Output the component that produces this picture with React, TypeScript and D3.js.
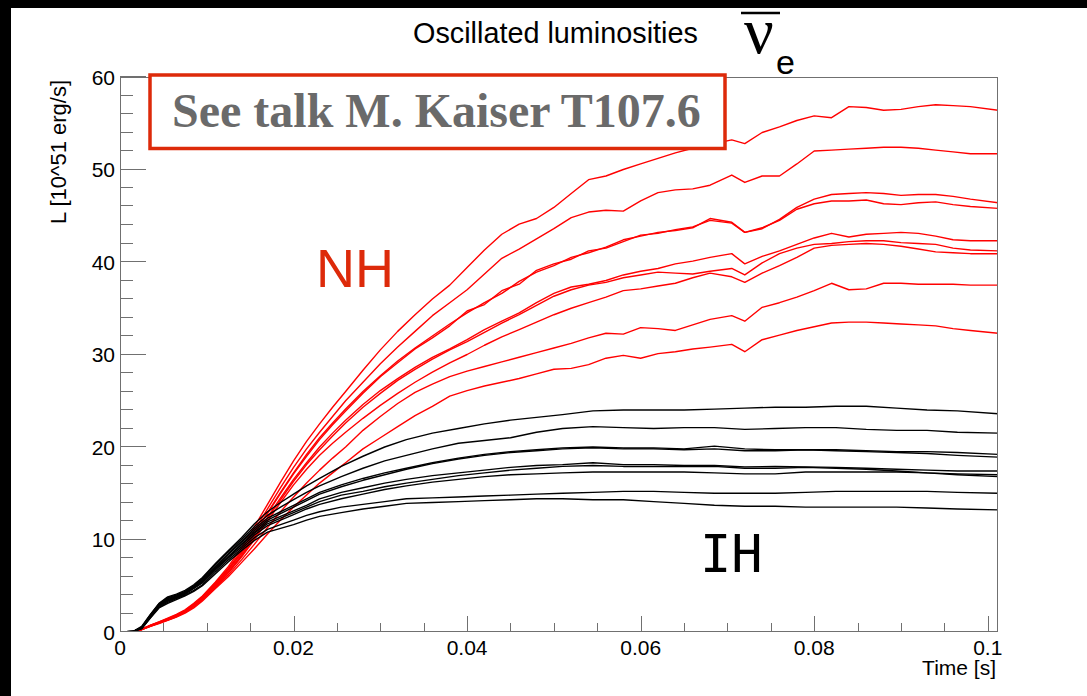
import React from 'react';
import * as d3 from 'd3';

// time grids (s)
const T_NH = [0, 0.0015, 0.0025, 0.0035, 0.0045, 0.0055, 0.0065, 0.0075, 0.0085, 0.0095,
  0.011, 0.0125, 0.014, 0.0155, 0.017, 0.0185, 0.02, 0.0215, 0.023, 0.0245,
  0.026, 0.028, 0.030, 0.032, 0.034, 0.036, 0.038, 0.040, 0.042, 0.044, 0.046, 0.048, 0.050, 0.052, 0.054, 0.056, 0.058, 0.060, 0.062, 0.064, 0.066, 0.068,
  0.0705, 0.072,
  0.074, 0.076, 0.078, 0.080, 0.082, 0.084, 0.086, 0.088, 0.090, 0.092, 0.094, 0.096, 0.098,
  0.1012];

const T_IH = [0, 0.0015, 0.0025, 0.0035, 0.0045, 0.0055, 0.0065, 0.0075, 0.0085, 0.0095,
  0.011, 0.0125, 0.014, 0.0155, 0.017, 0.0185, 0.02, 0.0215, 0.023,
  0.0255, 0.028, 0.0305, 0.033, 0.036, 0.039, 0.042, 0.045, 0.048, 0.051,
  0.0545, 0.058, 0.0615, 0.065, 0.0685, 0.072, 0.0755, 0.079, 0.0825, 0.086,
  0.0895, 0.093, 0.0965, 0.1012];

// NH (red) luminosities, 10^51 erg/s
const nh1 = [0, 0, 0.3, 0.75, 1.1, 1.5, 1.9, 2.4, 3.1, 3.9,
  5.4, 7.1, 9.1, 11.4, 13.8, 16.2, 18.5, 20.6, 22.5, 24.3,
  26.0, 28.3, 30.5, 32.5, 34.3, 36.0, 37.5, 39.4, 41.3, 43.0, 44.1, 44.7, 45.9, 47.4, 48.9, 49.3, 50.0, 50.6, 51.2, 51.8, 52.3, 52.7,
  53.2, 52.8,
  54.0, 54.6, 55.3, 55.8, 55.6, 56.8, 56.7, 56.4, 56.5, 56.8, 57.0, 56.9, 56.8,
  56.4];
const nh2 = [0, 0, 0.3, 0.72, 1.08, 1.45, 1.85, 2.35, 3.0, 3.8,
  5.3, 6.9, 8.8, 11.0, 13.3, 15.6, 17.8, 19.8, 21.6, 23.3,
  25.0, 27.0, 29.0, 30.8, 32.5, 34.2, 35.6, 37.0, 38.7, 40.4, 41.4, 42.5, 43.6, 44.8, 45.4, 45.6, 45.5, 46.6, 47.5, 47.8, 47.9, 48.3,
  49.4, 48.6,
  49.3, 49.3, 50.6, 52.0, 52.1, 52.2, 52.3, 52.4, 52.4, 52.3, 52.1, 51.9, 51.7,
  51.7];
const nh3 = [0, 0, 0.3, 0.7, 1.05, 1.4, 1.8, 2.3, 2.95, 3.75,
  5.2, 6.8, 8.6, 10.7, 12.9, 15.1, 17.2, 19.2, 21.0, 22.6,
  24.1, 26.0, 27.7, 29.3, 30.7, 32.0, 33.3, 34.5, 35.6, 36.6, 37.9, 38.9, 39.6, 40.5, 41.0, 41.6, 42.4, 42.8, 43.2, 43.4, 43.7, 44.7,
  44.3, 43.2,
  43.6, 44.6, 45.9, 46.8, 47.3, 47.4, 47.5, 47.4, 47.2, 47.3, 47.3, 47.1, 46.8,
  46.4];
const nh4 = [0, 0, 0.28, 0.68, 1.02, 1.38, 1.78, 2.28, 2.9, 3.7,
  5.1, 6.7, 8.5, 10.6, 12.8, 15.0, 17.1, 19.0, 20.8, 22.4,
  23.9, 25.8, 27.6, 29.1, 30.6, 31.8, 33.1, 34.7, 35.4, 36.9, 37.6, 39.1, 39.8, 40.3, 41.2, 41.5, 42.2, 42.9, 43.1, 43.5, 43.8, 44.5,
  44.2, 43.2,
  43.7, 44.5, 45.7, 46.3, 46.6, 46.6, 46.7, 46.3, 46.2, 46.4, 46.5, 46.2, 46.0,
  45.8];
const nh5 = [0, 0, 0.28, 0.67, 1.0, 1.35, 1.75, 2.25, 2.85, 3.65,
  5.0, 6.5, 8.3, 10.3, 12.4, 14.5, 16.5, 18.3, 20.0, 21.5,
  22.9, 24.6, 26.1, 27.4, 28.6, 29.7, 30.6, 31.6, 32.7, 33.6, 34.5, 35.6, 36.6, 37.3, 37.6, 38.0, 38.6, 39.0, 39.3, 39.8, 40.1, 40.5,
  40.9, 39.8,
  40.6, 41.2, 41.9, 42.6, 43.1, 42.7, 43.0, 43.1, 43.2, 43.1, 42.8, 42.4, 42.3,
  42.3];
const nh6 = [0, 0, 0.27, 0.66, 1.0, 1.34, 1.74, 2.22, 2.82, 3.6,
  5.0, 6.5, 8.2, 10.2, 12.3, 14.3, 16.3, 18.1, 19.7, 21.2,
  22.6, 24.3, 25.8, 27.2, 28.4, 29.5, 30.5, 31.4, 32.4, 33.4, 34.3, 35.3, 36.3, 37.0, 37.5, 37.8, 38.3, 38.6, 38.9, 38.8, 38.7, 39.0,
  39.3, 38.6,
  39.9, 40.9, 41.5, 41.9, 42.0, 42.2, 42.3, 42.3, 42.1, 42.0, 41.9, 41.5, 41.3,
  41.2];
const nh7 = [0, 0, 0.27, 0.65, 0.98, 1.32, 1.7, 2.2, 2.8, 3.55,
  4.9, 6.4, 8.1, 10.0, 12.0, 14.0, 15.9, 17.6, 19.1, 20.4,
  21.6, 23.1, 24.5, 25.8, 27.0, 28.1, 29.1, 30.0, 31.0, 31.9, 32.7, 33.5, 34.3, 35.0, 35.6, 36.2, 36.9, 37.1, 37.4, 37.7, 38.3, 38.8,
  38.4, 37.8,
  38.8, 39.6, 40.5, 41.5, 41.8, 41.9, 42.0, 41.9, 41.7, 41.4, 41.1, 41.0, 40.9,
  40.9];
const nh8 = [0, 0, 0.25, 0.62, 0.95, 1.28, 1.65, 2.12, 2.7, 3.45,
  4.8, 6.2, 7.8, 9.5, 11.3, 13.0, 14.6, 16.1, 17.5, 18.8,
  20.0, 21.8, 23.3, 24.7, 25.9, 26.8, 27.6, 28.2, 28.7, 29.2, 29.7, 30.2, 30.7, 31.2, 31.8, 32.3, 32.2, 32.9, 32.8, 32.6, 33.2, 33.8,
  34.2, 33.6,
  35.1, 35.6, 36.2, 36.9, 37.7, 37.0, 37.1, 37.7, 37.7, 37.6, 37.6, 37.6, 37.5,
  37.5];
const nh9 = [0, 0, 0.25, 0.6, 0.92, 1.25, 1.6, 2.05, 2.6, 3.35,
  4.7, 6.0, 7.5, 9.0, 10.6, 12.1, 13.5, 14.8, 16.1, 17.2,
  18.3, 19.8, 21.0, 22.2, 23.4, 24.4, 25.5, 26.1, 26.6, 27.0, 27.4, 27.9, 28.4, 28.5, 28.9, 29.6, 29.9, 29.6, 30.1, 30.3, 30.6, 30.8,
  31.1, 30.3,
  31.6, 32.1, 32.6, 33.0, 33.4, 33.5, 33.5, 33.4, 33.3, 33.2, 33.1, 32.8, 32.6,
  32.3];

// IH (black) luminosities
const ih1 = [0, 0.05, 0.6, 1.9, 3.1, 3.8, 4.1, 4.5, 5.1, 5.9,
  7.4, 8.8, 10.2, 11.7, 13.0, 14.0, 14.9, 15.8, 16.6,
  17.9, 19.0, 20.0, 20.8, 21.5, 22.0, 22.5, 22.9, 23.2, 23.5,
  23.9, 24.0, 24.0, 24.0, 24.1, 24.2, 24.3, 24.3, 24.4, 24.4,
  24.2, 24.0, 23.9, 23.6];
const ih2 = [0, 0.05, 0.55, 1.85, 3.05, 3.7, 4.0, 4.4, 5.0, 5.8,
  7.3, 8.7, 10.0, 11.4, 12.6, 13.5, 14.3, 15.1, 15.8,
  16.8, 17.7, 18.5, 19.1, 19.8, 20.4, 20.7, 21.0, 21.6, 22.0,
  22.2, 22.1, 22.0, 22.1, 22.1, 21.9, 22.0, 22.1, 22.1, 21.9,
  21.8, 21.8, 21.6, 21.5];
const ih3 = [0, 0.05, 0.5, 1.8, 3.0, 3.6, 3.9, 4.3, 4.9, 5.7,
  7.1, 8.5, 9.8, 11.2, 12.3, 13.0, 13.7, 14.4, 15.1,
  15.9, 16.6, 17.2, 17.7, 18.3, 18.8, 19.2, 19.5, 19.7, 19.9,
  20.0, 19.9, 19.9, 19.8, 20.1, 19.8, 19.7, 19.7, 19.7, 19.6,
  19.5, 19.5, 19.4, 19.2];
const ih4 = [0, 0.05, 0.5, 1.75, 2.95, 3.5, 3.85, 4.25, 4.85, 5.6,
  7.0, 8.4, 9.7, 11.0, 12.1, 12.8, 13.5, 14.2, 14.9,
  15.7, 16.4, 17.0, 17.6, 18.2, 18.7, 19.1, 19.4, 19.6, 19.8,
  19.9, 19.8, 19.8, 19.7, 19.8, 19.6, 19.6, 19.7, 19.6, 19.5,
  19.4, 19.3, 19.1, 18.9];
const ih5 = [0, 0.05, 0.45, 1.7, 2.9, 3.5, 3.8, 4.2, 4.8, 5.5,
  6.9, 8.2, 9.5, 10.8, 11.9, 12.5, 13.1, 13.7, 14.4,
  15.1, 15.6, 16.1, 16.5, 16.9, 17.2, 17.5, 17.8, 18.0, 18.1,
  18.3, 18.1, 18.1, 18.0, 18.0, 17.85, 17.9, 17.85, 17.8, 17.7,
  17.6, 17.5, 17.4, 17.4];
const ih6 = [0, 0.05, 0.45, 1.65, 2.85, 3.4, 3.75, 4.15, 4.75, 5.4,
  6.8, 8.1, 9.4, 10.7, 11.7, 12.3, 12.9, 13.5, 14.1,
  14.8, 15.2, 15.7, 16.1, 16.5, 16.9, 17.2, 17.5, 17.7, 17.9,
  18.0, 17.9, 17.9, 17.9, 17.9, 17.7, 17.7, 17.8, 17.7, 17.6,
  17.4, 17.2, 17.1, 17.0];
const ih7 = [0, 0.05, 0.4, 1.6, 2.8, 3.3, 3.7, 4.1, 4.7, 5.3,
  6.7, 8.0, 9.2, 10.5, 11.5, 12.1, 12.7, 13.3, 13.8,
  14.4, 14.9, 15.4, 15.8, 16.2, 16.5, 16.8, 17.0, 17.1, 17.2,
  17.3, 17.3, 17.3, 17.3, 17.2, 17.1, 17.1, 17.3, 17.3, 17.3,
  17.3, 17.2, 17.0, 16.8];
const ih8 = [0, 0.05, 0.4, 1.55, 2.7, 3.2, 3.6, 4.0, 4.5, 5.1,
  6.5, 7.8, 9.0, 10.2, 11.1, 11.6, 12.1, 12.6, 13.0,
  13.5, 13.8, 14.1, 14.4, 14.5, 14.6, 14.7, 14.8, 14.9, 15.0,
  15.1, 15.2, 15.2, 15.1, 15.0, 15.0, 15.0, 15.1, 15.2, 15.2,
  15.2, 15.2, 15.1, 15.0];
const ih9 = [0, 0.05, 0.35, 1.5, 2.6, 3.1, 3.5, 3.9, 4.4, 5.0,
  6.3, 7.6, 8.8, 9.9, 10.8, 11.2, 11.6, 12.1, 12.5,
  12.9, 13.3, 13.6, 13.9, 14.0, 14.1, 14.2, 14.3, 14.4, 14.4,
  14.3, 14.3, 14.1, 13.9, 13.7, 13.6, 13.6, 13.5, 13.5, 13.5,
  13.5, 13.4, 13.3, 13.2];

const NH = [nh1, nh2, nh3, nh4, nh5, nh6, nh7, nh8, nh9];
const IH = [ih1, ih2, ih3, ih4, ih5, ih6, ih7, ih8, ih9];

const X_TICKS = [0, 0.02, 0.04, 0.06, 0.08, 0.1];
const X_TICK_LABELS = ['0', '0.02', '0.04', '0.06', '0.08', '0.1'];
const Y_TICKS = [0, 10, 20, 30, 40, 50, 60];

const AXIS = '#707070';
const SANS = '"Liberation Sans", Arial, Helvetica, sans-serif';
const SERIF = '"Liberation Serif", "Times New Roman", serif';

export default function App() {
  const W = 1087, H = 696;
  const x = d3.scaleLinear().domain([0, 0.10118]).range([120, 998]);
  const y = d3.scaleLinear().domain([0, 60]).range([632, 77]);
  const x0 = 120, x1 = 998, y0 = 632, y1 = 77;

  const mkPath = (ts: number[], vs: number[]) => {
    const n = Math.min(ts.length, vs.length);
    const pts: [number, number][] = [];
    for (let i = 0; i < n; i++) pts.push([x(ts[i]), y(vs[i])]);
    return d3.line()(pts) || '';
  };

  const xMinor = d3.range(0, 101, 5).map(v => v / 1000).filter(v => Math.abs(v * 50 - Math.round(v * 50)) > 1e-6);
  const yMinor = d3.range(0, 61, 2).filter(v => v % 10 !== 0);
  const px = (v: number) => Math.round(v) + 0.5;

  return (
    <svg width={W} height={H} style={{ position: 'absolute', left: 0, top: 0, display: 'block' }}
      xmlns="http://www.w3.org/2000/svg">
      <rect x={0} y={0} width={W} height={H} fill="#fff" />
      <rect x={0} y={0} width={W} height={8} fill="#000" />
      <rect x={0} y={0} width={11} height={H} fill="#000" />

      <defs>
        <clipPath id="frameClip">
          <rect x={x0} y={y1} width={x1 - x0} height={y0 - y1} />
        </clipPath>
      </defs>

      <g clipPath="url(#frameClip)" fill="none" strokeWidth={1.4} strokeLinejoin="round">
        {NH.map((vs, i) => (
          <path key={'nh' + i} d={mkPath(T_NH, vs)} stroke="#ff0000" />
        ))}
        {IH.map((vs, i) => (
          <path key={'ih' + i} d={mkPath(T_IH, vs)} stroke="#000000" />
        ))}
      </g>

      {/* frame */}
      <rect x={x0 + 0.5} y={y1 + 0.5} width={x1 - x0 - 1} height={y0 - y1 - 1} fill="none" stroke={AXIS} strokeWidth={1} />

      {/* ticks */}
      <g stroke={AXIS} strokeWidth={1}>
        {X_TICKS.map(t => (
          <line key={'xM' + t} x1={px(x(t))} x2={px(x(t))} y1={y0} y2={y0 - 16} />
        ))}
        {xMinor.map(t => (
          <line key={'xm' + t} x1={px(x(t))} x2={px(x(t))} y1={y0} y2={y0 - 9} />
        ))}
        {Y_TICKS.map(v => (
          <line key={'yM' + v} x1={x0} x2={x0 + 26} y1={px(y(v)) - 1} y2={px(y(v)) - 1} />
        ))}
        {yMinor.map(v => (
          <line key={'ym' + v} x1={x0} x2={x0 + 13} y1={px(y(v)) - 1} y2={px(y(v)) - 1} />
        ))}
      </g>

      {/* tick labels */}
      <g fontFamily={SANS} fontSize={21} fill="#000">
        {X_TICKS.map((t, i) => (
          <text key={'xl' + t} x={x(t)} y={655} textAnchor="middle">{X_TICK_LABELS[i]}</text>
        ))}
        {Y_TICKS.map(v => (
          <text key={'yl' + v} x={115} y={y(v) + 7.5} textAnchor="end">{v}</text>
        ))}
      </g>

      {/* axis titles */}
      <text x={996} y={675} textAnchor="end" fontFamily={SANS} fontSize={21}>Time [s]</text>
      <text transform="translate(66,80) rotate(-90)" textAnchor="end" fontFamily={SANS} fontSize={22}>L [10^51 erg/s]</text>

      {/* title */}
      <text x={413} y={43} fontFamily={SANS} fontSize={28.8}>Oscillated luminosities</text>
      <line x1={741} x2={780} y1={13} y2={13} stroke="#000" strokeWidth={2.5} />
      <text x={744} y={53} fontFamily={SERIF} fontSize={66}>ν</text>
      <text x={776} y={74} fontFamily={SANS} fontSize={34}>e</text>

      {/* talk box */}
      <rect x={150} y={75} width={575} height={73.5} fill="#fff" stroke="#dd2a0a" strokeWidth={3.5} />
      <text x={172} y={127} fontFamily={SERIF} fontWeight="bold"
        fontSize={48} fill="#6a6a6a">See talk M. Kaiser T107.6</text>

      <text x={316} y={287} fontFamily={SANS} fontSize={54} fill="#dd2a0a">NH</text>
      <text x={700} y={572} fontFamily='"DejaVu Sans Mono", monospace' fontSize={52} fill="#000">IH</text>
    </svg>
  );
}
